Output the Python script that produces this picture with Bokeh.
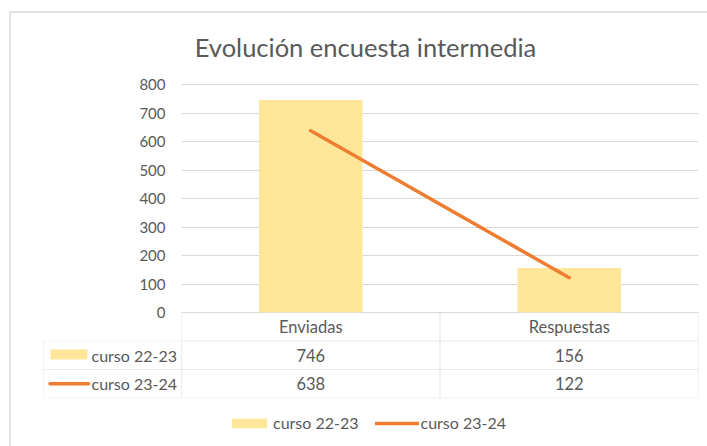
from bokeh.plotting import figure
from bokeh.models import (Range1d, FixedTicker, Legend, LegendItem, BoxAnnotation,
                          Label, ColumnDataSource, Grid)
from bokeh.core.properties import value
from bokeh.embed import file_html
from bokeh.resources import INLINE

# ---- data ----
categories = ["Enviadas", "Respuestas"]
series_names = ["curso 22-23", "curso 23-24"]
curso_22_23 = [746, 156]
curso_23_24 = [638, 122]
y_ticks = [0, 100, 200, 300, 400, 500, 600, 700, 800]
title_text = "Evolución encuesta intermedia"

TXT = "#595959"
GRID = "#d9d9d9"
BAR = "#FFE699"
LINE = "#ED7D31"
FONT = "Lato"

W, H = 707, 446
# layout: pixel positions of the plot area (category 0..2, value 0..800)
X0_PX, X2_PX = 181, 698
Y0_PX, Y800_PX = 312, 84
sx = (X2_PX - X0_PX) / 2.0
sy = (Y0_PX - Y800_PX) / 800.0


def px_x(px):
    return (px - X0_PX) / sx


def px_y(py):
    return (Y0_PX - py) / sy


xs = [i + 0.5 for i in range(len(categories))]
ncat = len(categories)

p = figure(width=W, height=H, output_backend="svg", toolbar_location=None,
           x_range=Range1d(px_x(0), px_x(W)), y_range=Range1d(px_y(H), px_y(0)),
           x_axis_location=None, min_border_left=0, min_border_right=0,
           min_border_top=0, min_border_bottom=0)
p.outline_line_color = None
p.xgrid.visible = False
p.ygrid.ticker = FixedTicker(ticks=y_ticks)
p.ygrid.grid_line_color = GRID
if "cross_bounds" in Grid.properties():
    p.ygrid.cross_bounds = (0, ncat)
else:
    p.ygrid.visible = False
    p.segment(x0=[0] * len(y_ticks), x1=[ncat] * len(y_ticks), y0=y_ticks,
              y1=y_ticks, line_color=GRID, line_width=1)
p.yaxis.fixed_location = 0
p.yaxis.ticker = FixedTicker(ticks=y_ticks)
p.yaxis.axis_line_color = None
p.yaxis.major_tick_line_color = None
p.yaxis.minor_tick_line_color = None
p.yaxis.major_tick_out = 0
p.yaxis.major_tick_in = 0
p.yaxis.major_label_standoff = 16
p.yaxis.major_label_text_font = FONT
p.yaxis.major_label_text_font_size = "15px"
p.yaxis.major_label_text_color = TXT

# outer chart border (left and top edges; right/bottom fall outside the page)
p.segment(x0=[px_x(9.5), px_x(9.5)], x1=[px_x(9.5), px_x(W + 20)],
          y0=[px_y(H + 20), px_y(11.5)], y1=[px_y(11.5), px_y(11.5)],
          line_color="#d9d9d9", line_width=1.5)

# title
p.add_layout(Label(x=px_x(365), y=px_y(46), text=title_text, text_align="center",
                   text_baseline="middle", text_font=FONT,
                   text_font_size="25.5px", text_color=TXT))

src = ColumnDataSource(dict(x=xs, cat=categories, a=curso_22_23, b=curso_23_24,
                            sa=[str(v) for v in curso_22_23],
                            sb=[str(v) for v in curso_23_24]))

bars = p.vbar(x="x", top="a", width=0.4, bottom=0, source=src,
              fill_color=BAR, line_color=None)
line = p.line(x="x", y="b", source=src, line_color=LINE, line_width=3.5,
              line_cap="round")

# ---- data table under the chart ----
L = px_x(43)
row_tops = [0, -100, -200]
for r, top in enumerate(row_tops):
    cols = [(0, 1), (1, 2)] if r == 0 else [(L, 0), (0, 1), (1, 2)]
    for (l, rr) in cols:
        p.add_layout(BoxAnnotation(left=l, right=rr, top=top, bottom=top - 100,
                                   fill_color=None, line_color=GRID, line_width=1.2))

for col, yy in [("cat", -50), ("sa", -150), ("sb", -250)]:
    p.text(x="x", y=yy, text=col, source=src, text_align="center",
           text_baseline="middle", text_font=value(FONT), text_font_size="16.5px",
           text_color=TXT)

# legend column of the table
p.quad(left=[px_x(50)], right=[px_x(87)], top=[-130], bottom=[-165],
       fill_color=BAR, line_color=None)
p.segment(x0=[px_x(49.5)], x1=[px_x(88)], y0=[-250], y1=[-250],
          line_color=LINE, line_width=3.5, line_cap="round")
p.text(x=[px_x(91)] * 2, y=[-150, -250], text=series_names, text_align="left",
       text_baseline="middle", text_font=value(FONT), text_font_size="16px",
       text_color=TXT)

legend = Legend(items=[LegendItem(label=series_names[0], renderers=[bars]),
                       LegendItem(label=series_names[1], renderers=[line])],
                location=(227, 14), orientation="horizontal",
                glyph_width=44, glyph_height=12, label_height=16,
                label_standoff=2, spacing=16, padding=0, margin=0,
                border_line_color=None, background_fill_color=None,
                label_text_font=FONT, label_text_font_size="16px",
                label_text_color=TXT)
p.add_layout(legend)

open("out.html", "w").write(file_html(p, INLINE))
